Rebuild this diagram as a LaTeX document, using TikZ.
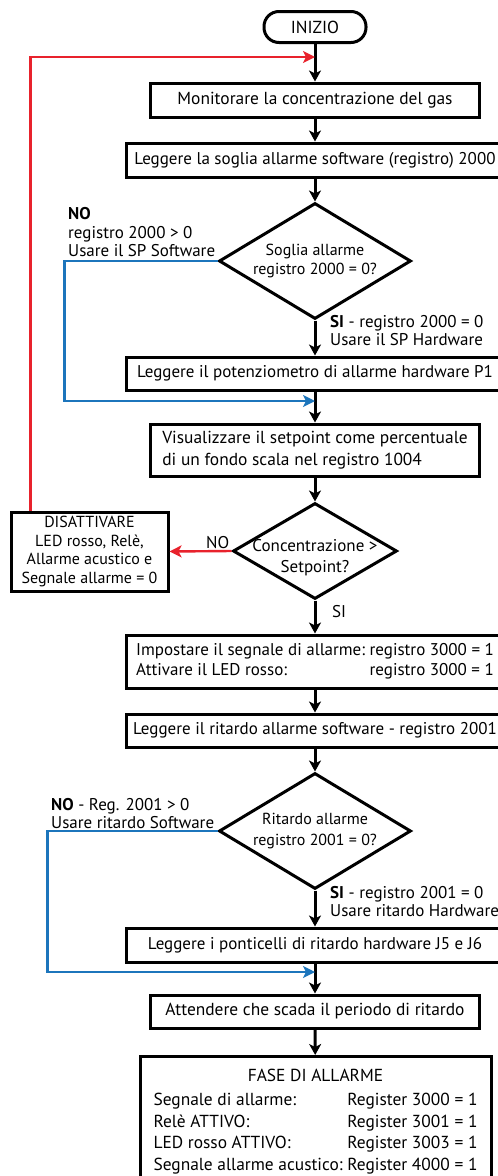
\documentclass[tikz,border=0pt]{standalone}
\usepackage{fontspec}
\setmainfont{PT Sans}
\usetikzlibrary{shapes.geometric,arrows.meta}

\definecolor{rosso}{RGB}{232,34,44}
\definecolor{blu}{RGB}{28,117,188}

\tikzset{
  testo/.style={font=\fontsize{17.4}{20}\selectfont},
  casella/.style={testo,draw,line width=3pt,inner sep=0pt,minimum height=34pt},
  larga/.style={casella,minimum width=378pt,font=\fontsize{17}{20}\selectfont},
  stretta/.style={casella,minimum width=329pt},
  scelta/.style={draw,line width=3pt,diamond,inner xsep=-25pt,inner ysep=-15pt,align=center,font=\fontsize{16}{19}\selectfont},
  etichetta/.style={inner sep=0pt,align=left,font=\fontsize{17}{18.5}\selectfont},
  freccia/.style={line width=3pt,-{Stealth[length=11pt,width=12pt,inset=3pt]}},
  ritorno/.style={rosso,line width=2.4pt,-{Stealth[length=12pt,width=12pt,inset=3pt]}},
  salto/.style={blu,line width=2.4pt,-{Stealth[length=12pt,width=12pt,inset=3pt]}},
}

\begin{document}
\begin{tikzpicture}[x=1pt,y=-1pt]

	\useasboundingbox (0,0) rectangle (498,1176);
	\clip (0,0) rectangle (498,1176);

	% Punti di raccordo
	\coordinate (rit) at (315,57);
	\coordinate (j1) at (315,401);
	\coordinate (j2) at (315,972);

	% Caselle
	\node[casella,rounded corners=15pt,minimum width=102pt,minimum height=31pt] (inizio) at (315,27) {INIZIO};
	\node[stretta] (m1) at (315,100) {Monitorare la concentrazione del gas};
	\node[larga] (m2) at (315,160) {Leggere la soglia allarme software (registro) 2000};
	\node[scelta,minimum width=192pt,minimum height=116pt] (d1) at (315,261) {Soglia allarme\\registro 2000 = 0?};
	\node[larga,minimum height=33pt] (m3) at (315,373.5) {Leggere il potenziometro di allarme hardware P1};
	\node[stretta,minimum height=52pt,align=left,font=\fontsize{17.4}{22}\selectfont] (m4) at (315,450)
		{Visualizzare il setpoint come percentuale\\di un fondo scala nel registro 1004};
	\node[scelta,minimum width=164pt,minimum height=96pt,font=\fontsize{17}{21}\selectfont] (d2) at (315,551)
		{\rule{0pt}{26pt}Concentrazione >\\Setpoint?};
	\node[casella,minimum width=157pt,minimum height=79pt,align=center,font=\fontsize{16}{18.5}\selectfont] (dis) at (89.5,551.5)
		{DISATTIVARE\\LED rosso, Relè,\\Allarme acustico e\\Segnale allarme = 0};
	\node[larga,minimum height=53pt] (m5) at (315,661.5)
		{\begin{tabular}{@{}l@{\ }l@{}}
		Impostare il segnale di allarme: & registro 3000 = 1\\
		Attivare il LED rosso: & registro 3000 = 1
		\end{tabular}};
	\node[larga,minimum height=33pt] (m6) at (315,730.5) {Leggere il ritardo allarme software - registro 2001};
	\node[scelta,minimum width=192pt,minimum height=116pt,font=\fontsize{16}{21}\selectfont] (d3) at (315,831) {Ritardo allarme\\registro 2001 = 0?};
	\node[larga] (m7) at (315,945) {Leggere i ponticelli di ritardo hardware J5 e J6};
	\node[stretta,minimum height=33pt] (m8) at (315,1011.5) {Attendere che scada il periodo di ritardo};
	\node[casella,minimum width=351pt,minimum height=130pt,anchor=north,font=\fontsize{17.4}{21.5}\selectfont] (m9) at (315.5,1055)
		{\begin{tabular}{@{}l@{\ }l@{}}
		\multicolumn{2}{c}{FASE DI ALLARME}\\[3pt]
		Segnale di allarme: & Register 3000 = 1\\
		Relè ATTIVO: & Register 3001 = 1\\
		LED rosso ATTIVO: & Register 3003 = 1\\
		Segnale allarme acustico: & Register 4000 = 1
		\end{tabular}};

	% Etichette delle uscite
	\node[etichetta,anchor=south west] (no1) at (68,257) {\textbf{NO}\\registro 2000 > 0\\Usare il SP Software};
	\node[etichetta,anchor=north west] (si1) at (330,315) {\textbf{SI} - registro 2000 = 0\\Usare il SP Hardware};
	\node[etichetta,anchor=south west] (no2) at (206,549) {NO};
	\node[etichetta,anchor=north west] (si2) at (332,605) {SI};
	\node[etichetta,anchor=south west] (no3) at (51,829) {\textbf{NO} - Reg. 2001 > 0\\Usare ritardo Software};
	\node[etichetta,anchor=north west] (si3) at (330,886) {\textbf{SI} - registro 2001 = 0\\Usare ritardo Hardware};

	% Frecce principali
	\draw[freccia] (inizio) -- (m1);
	\draw[freccia] (m1) -- (m2);
	\draw[freccia] (m2) -- (d1);
	\draw[freccia] (d1) -- (m3);
	\draw[freccia] (m3) -- (m4);
	\draw[freccia] (m4) -- (d2);
	\draw[freccia] (d2) -- (m5);
	\draw[freccia] (m5) -- (m6);
	\draw[freccia] (m6) -- (d3);
	\draw[freccia] (d3) -- (m7);
	\draw[freccia] (m7) -- (m8);
	\draw[freccia] (m8) -- (m9);

	% Rami NO
	\draw[salto] (d1.west) -- ++(-153,0) |- (j1);
	\draw[salto] (d3.west) -- ++(-170,0) |- (j2);
	\draw[ritorno] (d2.west) -- (dis.east);
	\draw[ritorno] ([xshift=21pt]dis.north west) |- (rit);

\end{tikzpicture}
\end{document}
